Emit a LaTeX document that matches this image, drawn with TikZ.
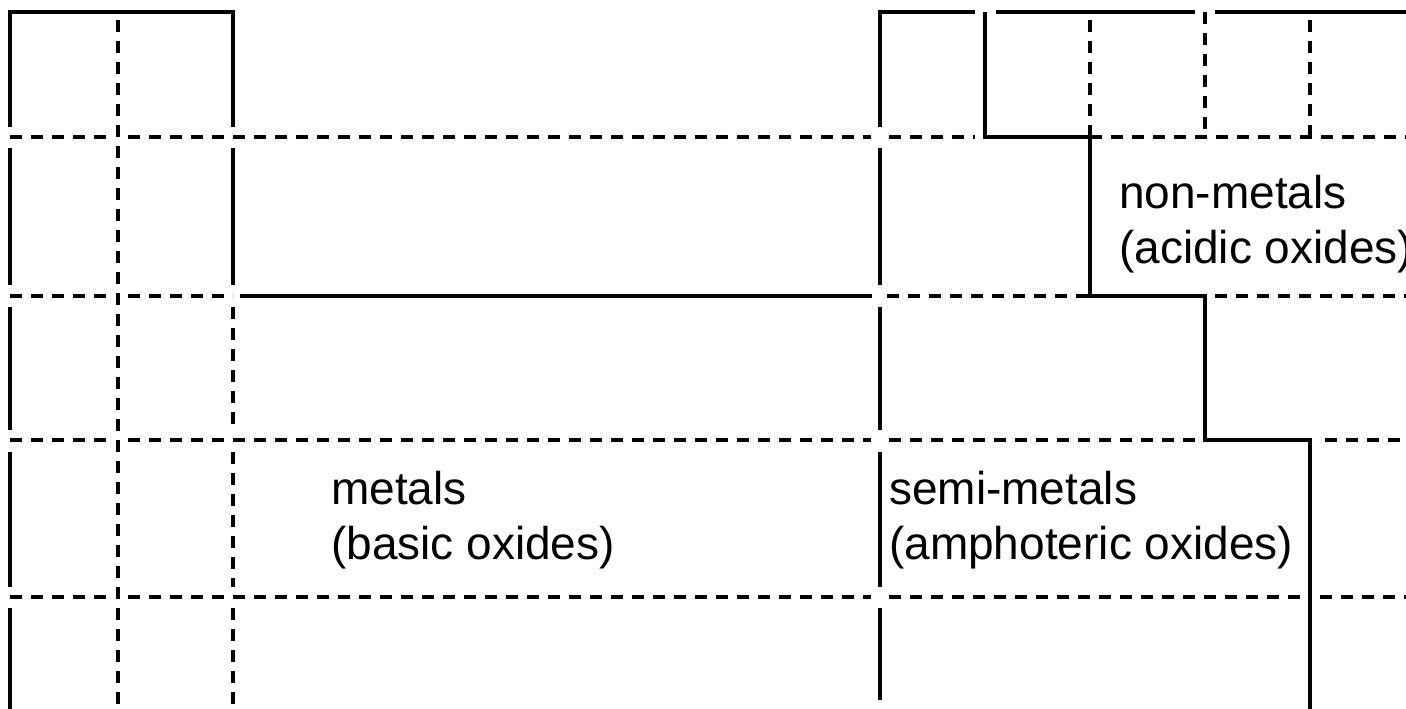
\documentclass[tikz,border=0pt]{standalone}
\usepackage{fontspec}
\setmainfont{Liberation Sans}
\begin{document}
\begin{tikzpicture}[x=1pt,y=-1pt,
  wall/.style={line width=3.3pt},
  grid/.style={line width=3.3pt, dash pattern=on 12pt off 9pt},
  lbl/.style={anchor=base west, inner sep=0pt, align=left,
    font=\fontsize{46}{55}\selectfont}]
\useasboundingbox (0,0) rectangle (1406,709);

% ---- dashed horizontal grid lines (period boundaries)
\draw[grid] (10,137) -- (107,137) (128,137) -- (871,137) (889,137) -- (975,137)
            (1090,137) -- (1406,137);
\draw[grid] (10,296) -- (107,296) (128,296) -- (233,296) (887,296) -- (1090,296)
            (1215,296) -- (1406,296);
\draw[grid] (10,440) -- (107,440) (128,440) -- (871,440) (889,440) -- (1195,440)
            (1325,440) -- (1406,440);
\draw[grid] (10,597) -- (107,597) (128,597) -- (871,597) (889,597) -- (1300,597)
            (1320,597) -- (1406,597);

% ---- dashed vertical grid lines (group boundaries)
\draw[grid] (118,20) -- (118,705);
\draw[grid] (233,307) -- (233,430) (233,452) -- (233,587) (233,608) -- (233,709);
\draw[grid] (1090,20) -- (1090,137);
\draw[grid] (1205,12) -- (1205,137);
\draw[grid] (1310,20) -- (1310,137);

% ---- solid outline: s-block
\draw[wall] (10,127) -- (10,12) -- (233,12) -- (233,127);
\draw[wall] (10,148) -- (10,285) (10,307) -- (10,430) (10,452) -- (10,587)
            (10,608) -- (10,709);
\draw[wall] (233,148) -- (233,285);
\draw[wall] (240,296) -- (872,296);

% ---- solid outline: p-block
\draw[wall] (880,127) -- (880,12) -- (975,12) (996,12) -- (1195,12)
            (1215,12) -- (1406,12);
\draw[wall] (880,148) -- (880,285) (880,307) -- (880,430) (880,452) -- (880,587)
            (880,608) -- (880,700);

% ---- metal / non-metal staircase
\draw[wall] (985,12) -- (985,137) -- (1090,137) -- (1090,296) -- (1205,296)
            -- (1205,440) -- (1310,440) -- (1310,709);

% ---- labels
\node[lbl] (metals) at (331,559) {metals\\(basic oxides)};
\node[lbl] (semimetals) at (889,559) {semi-metals\\(amphoteric oxides)};
\node[lbl] (nonmetals) at (1119,263) {non-metals\\(acidic oxides)};
\end{tikzpicture}
\end{document}
